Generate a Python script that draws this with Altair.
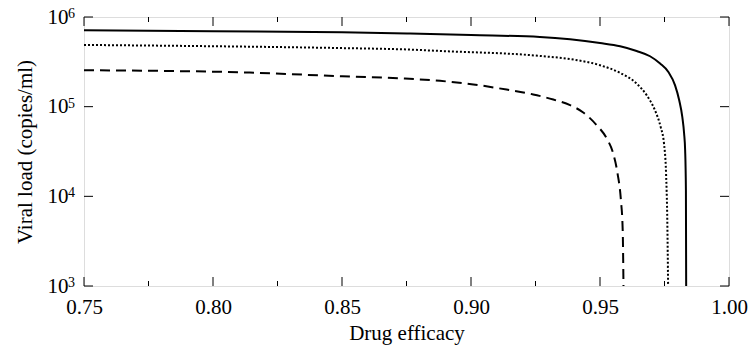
import altair as alt
import pandas as pd

# ---- data ----
solid_x = [0.750, 0.800, 0.850, 0.8764, 0.900, 0.9267, 0.9384, 0.950, 0.9578, 0.9642, 0.9694, 0.9733,
           0.9765, 0.9791, 0.9807, 0.9819, 0.9826, 0.9830, 0.9833, 0.9834]
solid_y = [7.11e5, 6.93e5, 6.76e5, 6.53e5, 6.29e5, 5.99e5, 5.64e5, 5.13e5, 4.72e5, 4.18e5, 3.65e5, 3.03e5,
           2.44e5, 1.73e5, 1.18e5, 7.69e4, 5.02e4, 3.27e4, 1.17e4, 1.0e3]

dotted_x = [0.750, 0.800, 0.850, 0.8764, 0.888, 0.9267, 0.9397, 0.950, 0.9578, 0.9642, 0.9681, 0.9713,
            0.9735, 0.9748, 0.9756, 0.9761, 0.9764]
dotted_y = [4.88e5, 4.72e5, 4.50e5, 4.33e5, 4.18e5, 3.68e5, 3.35e5, 2.90e5, 2.38e5, 1.81e5, 1.34e5, 9.13e4,
            5.95e4, 3.89e4, 1.81e4, 5.0e3, 1.0e3]

dashed_x = [0.750, 0.8143, 0.850, 0.8744, 0.888, 0.9009, 0.9138, 0.9241, 0.9319, 0.9384, 0.9435, 0.9487,
            0.9526, 0.9551, 0.9568, 0.9581, 0.9588, 0.9591]
dashed_y = [2.55e5, 2.40e5, 2.18e5, 2.06e5, 1.94e5, 1.77e5, 1.55e5, 1.37e5, 1.20e5, 1.04e5, 8.61e4, 6.22e4,
            4.42e4, 3.01e4, 1.80e4, 9.1e3, 4.2e3, 1.0e3]

x_major = [0.75, 0.80, 0.85, 0.90, 0.95, 1.00]
x_minor = [0.775, 0.825, 0.875, 0.925, 0.975]
y_major = [1e3, 1e4, 1e5, 1e6]
y_exponents = ["3", "4", "5", "6"]

W, H = 645, 269
FONT = "Liberation Serif"

xscale = alt.Scale(domain=[0.75, 1.0], nice=False, zero=False)
yscale = alt.Scale(type="log", domain=[1e3, 1e6], nice=False)

xaxis = alt.Axis(values=x_major, format=".2f", title="Drug efficacy", ticks=False, tickSize=0,
                 domain=False, grid=False, labelFont=FONT, labelFontSize=21, labelPadding=10,
                 labelColor="black", labelFlush=False, labelOverlap=False,
                 titleFont=FONT, titleFontSize=21, titleFontWeight="normal", titleColor="black",
                 titlePadding=5)
yaxis = alt.Axis(values=y_major, title="Viral load (copies/ml)", ticks=False, tickSize=0,
                 domain=False, grid=False, labelFont=FONT, labelFontSize=21, labelPadding=16,
                 labelColor="black", labelOverlap=False, labelFlush=False,
                 labelExpr="'10'",
                 titleFont=FONT, titleFontSize=21, titleFontWeight="normal", titleColor="black",
                 titlePadding=12)

def X():
    return alt.X("x:Q", scale=xscale, axis=xaxis)

def Y():
    return alt.Y("y:Q", scale=yscale, axis=yaxis)

def line(xs, ys, dash):
    df = pd.DataFrame({"x": xs, "y": ys})
    kw = {"strokeDash": dash} if dash else {}
    return alt.Chart(df).mark_line(color="black", strokeWidth=2, interpolate="monotone", **kw).encode(x=X(), y=Y())

solid = line(solid_x, solid_y, None)
dotted = line(dotted_x, dotted_y, [2, 2])
dashed = line(dashed_x, dashed_y, [10, 6])

xmaj = pd.DataFrame({"x": x_major})
xmin = pd.DataFrame({"x": x_minor})
ymaj = pd.DataFrame({"y": y_major, "e": y_exponents})

tk = dict(color="black", strokeWidth=1)
t1 = alt.Chart(xmaj).mark_rule(**tk).encode(x=X(), y=alt.value(H), y2=alt.value(H - 9))
t2 = alt.Chart(xmaj).mark_rule(**tk).encode(x=X(), y=alt.value(0), y2=alt.value(9))
t3 = alt.Chart(xmin).mark_rule(**tk).encode(x=X(), y=alt.value(H), y2=alt.value(H - 5))
t4 = alt.Chart(xmin).mark_rule(**tk).encode(x=X(), y=alt.value(0), y2=alt.value(5))
t5 = alt.Chart(ymaj).mark_rule(**tk).encode(y=Y(), x=alt.value(0), x2=alt.value(9))
t6 = alt.Chart(ymaj).mark_rule(**tk).encode(y=Y(), x=alt.value(W), x2=alt.value(W - 9))

exps = alt.Chart(ymaj).mark_text(font=FONT, fontSize=14, align="left", baseline="alphabetic",
                                 dy=1, color="black").encode(
    y=Y(), x=alt.value(-16), text="e:N")

chart = alt.layer(t1, t2, t3, t4, t5, t6, solid, dotted, dashed, exps).properties(
    width=W, height=H,
    autosize=alt.AutoSizeParams(type="none"),
    padding={"left": 84, "top": 17, "right": 21, "bottom": 65},
).configure_view(stroke="black", strokeWidth=1, clip=False).configure(background="white"
).configure_axis(labelFont=FONT, titleFont=FONT).configure_text(font=FONT)

chart.save("out.html", embed_options={"renderer": "svg", "actions": False})
